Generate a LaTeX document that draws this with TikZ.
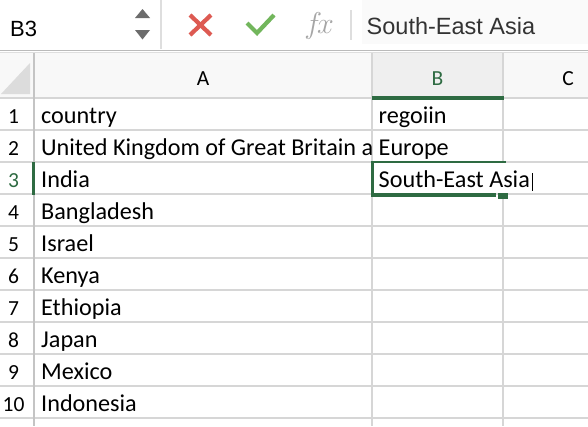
\documentclass[tikz,border=0pt]{standalone}
\usepackage{fontspec}
\setmainfont{Carlito}
\newfontfamily\uifont{Liberation Sans}
\definecolor{xlgreen}{RGB}{46,107,66}
\definecolor{gridc}{RGB}{214,214,214}
\definecolor{hdrbg}{RGB}{248,248,248}
\definecolor{hdrsel}{RGB}{239,239,239}
\definecolor{xred}{RGB}{221,90,82}
\definecolor{okgreen}{RGB}{114,182,92}
\definecolor{arrowgray}{RGB}{108,108,108}
\definecolor{fxgray}{RGB}{166,166,166}
\definecolor{fbtext}{RGB}{51,51,51}
\definecolor{fbbg}{RGB}{250,250,250}
\definecolor{sepdark}{RGB}{186,186,186}
\definecolor{seplight}{RGB}{222,222,222}
\definecolor{cornerc}{RGB}{220,220,220}
\definecolor{rowsep}{RGB}{196,196,196}
\newcommand\cellsize{\fontsize{24.2}{28}\selectfont}
\newcommand\hdrsize{\fontsize{21.5}{25}\selectfont}
\tikzset{
  cell/.style={anchor=base west, inner sep=0pt, font=\cellsize, text=black},
  rownum/.style={anchor=base, inner sep=0pt, font=\hdrsize, text=black},
  colhdr/.style={anchor=base, inner sep=0pt, font=\hdrsize, text=black},
  gridline/.style={draw=gridc, line width=1.4pt},
  selbar/.style={fill=xlgreen, draw=none},
}
\begin{document}
\begin{tikzpicture}[x=1pt,y=-1pt]
\useasboundingbox (0,0) rectangle (588,426);
\fill[white] (0,0) rectangle (588,426);
% ---------- toolbar ----------
\fill[fbbg] (362,0) rectangle (588,44);
\draw[draw=seplight, line width=2pt] (160.5,0) -- (160.5,49);
\fill[arrowgray] (135,18) -- (150,18) -- (142.5,9) -- cycle;
\fill[arrowgray] (135,30) -- (150,30) -- (142.5,39.5) -- cycle;
\node[anchor=base west, inner sep=0pt, font=\uifont\fontsize{22}{26}\selectfont] (namebox) at (10,36) {B3};
\draw[xred, line width=4.2pt] (190,15) -- (211,35);
\draw[xred, line width=4.2pt] (211,15) -- (190,35);
\draw[okgreen, line width=4.2pt, line join=miter] (247,23) -- (257,33) -- (274,15);
\node[anchor=base west, inner sep=0pt, text=fxgray, font=\fontsize{20}{24}\selectfont, scale=1.45] (fx) at (304,33) {$f\!x$};
\draw[seplight, line width=1.5pt] (351,10) -- (351,40);
\node[anchor=base west, inner sep=0pt, text=fbtext, font=\uifont\fontsize{23.5}{28}\selectfont] (formula) at (366.5,34.5) {South-East Asia};
% separator
\fill[hdrbg] (0,52) rectangle (588,98);
\draw[sepdark, line width=1.5pt] (0,50.5) -- (588,50.5);
\draw[seplight, line width=1pt] (0,52.5) -- (588,52.5);
% ---------- header ----------
\fill[hdrsel] (372,53) rectangle (503,97);
\fill[cornerc] (1,94) -- (30,94) -- (30,63) -- cycle;
\draw[gridline] (372,53) -- (372,98);
\draw[gridline] (503,53) -- (503,98);
\node[colhdr] (hA) at (203,85) {A};
\node[colhdr, text=xlgreen] (hB) at (437.5,85) {B};
\node[colhdr] (hC) at (568,85) {C};
% ---------- grid ----------
\foreach \yy in {98,130,162,194,226,258,290,322,354,386,418}
  \draw[gridline] (0,\yy) -- (588,\yy);
\draw[gridline] (372,98) -- (372,426);
\draw[gridline] (503,98) -- (503,162);
\draw[gridline] (503,194) -- (503,426);
\draw[draw=rowsep, line width=1.6pt] (34,53) -- (34,426);
\fill[selbar] (372,95.8) rectangle (503.5,99.6);
\fill[selbar] (32.2,162) rectangle (35,194.5);
% selection / edit box
\fill[white] (373.5,163.3) rectangle (588,193.3);
\draw[gridline] (503,162) -- (588,162);
\draw[gridline] (503,194) -- (588,194);
\fill[selbar] (370.6,160.6) rectangle (373.6,196.8);
\fill[selbar] (370.6,160.6) rectangle (505.7,163.4);
\fill[selbar] (370.6,193.4) rectangle (495.7,196.8);
\fill[selbar] (498.3,193.4) rectangle (508.3,199.3);
% ---------- row numbers ----------
\node[rownum] (r1) at (13.5,123) {1};
\node[rownum] (r2) at (13.5,155) {2};
\node[rownum, text=xlgreen] (r3) at (13.5,187) {3};
\node[rownum] (r4) at (13.5,219) {4};
\node[rownum] (r5) at (13.5,251) {5};
\node[rownum] (r6) at (13.5,283) {6};
\node[rownum] (r7) at (13.5,315) {7};
\node[rownum] (r8) at (13.5,347) {8};
\node[rownum] (r9) at (13.5,379) {9};
\node[rownum] (r10) at (13.5,411) {10};
% ---------- cells ----------
\node[cell] (a1) at (41,123) {country};
\begin{scope}
  \clip (35,131) rectangle (371.5,161);
  \node[cell] (a2) at (41,155) {United Kingdom of Great Britain a};
\end{scope}
\node[cell] (a3) at (41,187) {India};
\node[cell] (a4) at (41,219) {Bangladesh};
\node[cell] (a5) at (41,251) {Israel};
\node[cell] (a6) at (41,283) {Kenya};
\node[cell] (a7) at (41,315) {Ethiopia};
\node[cell] (a8) at (41,347) {Japan};
\node[cell] (a9) at (41,379) {Mexico};
\node[cell] (a10) at (41,411) {Indonesia};
\node[cell] (b1) at (378.5,123) {regoiin};
\node[cell] (b2) at (378.5,155) {Europe};
\node[cell] (b3) at (378.5,187) {South-East Asia};
\coordinate (cur1) at (532.5,173);
\coordinate (cur2) at (532.5,190.5);
\draw[black, line width=1.6pt] (cur1) -- (cur2);
\end{tikzpicture}
\end{document}
